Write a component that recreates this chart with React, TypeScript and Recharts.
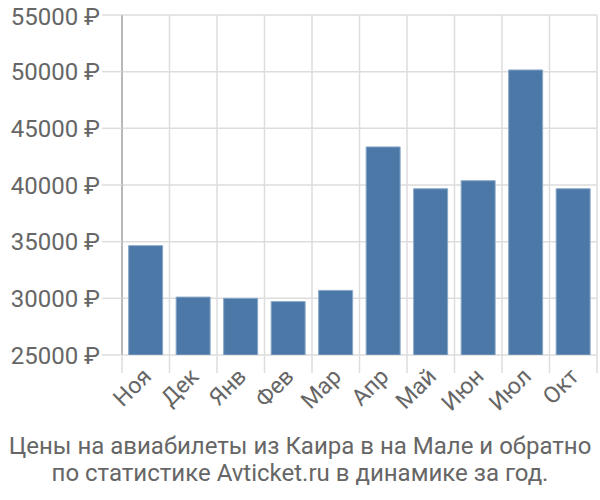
import React from 'react';
import { BarChart, Bar, XAxis, YAxis, CartesianGrid } from 'recharts';

const months = ['Ноя', 'Дек', 'Янв', 'Фев', 'Мар', 'Апр', 'Май', 'Июн', 'Июл', 'Окт'];
const prices = [34650, 30110, 30000, 29710, 30700, 43360, 39670, 40380, 50150, 39670];
const priceTicks = [25000, 30000, 35000, 40000, 45000, 50000, 55000];
const boundaryTicks = [0, 1, 2, 3, 4, 5, 6, 7, 8, 9, 10];
const titleLines = [
  'Цены на авиабилеты из Каира в на Мале и обратно',
  'по статистике Avticket.ru в динамике за год.',
];

const data = months.map((m, i) => ({ month: m, price: prices[i], pos: i + 0.5 }));

const FONT = 'Roboto, "DejaVu Sans", sans-serif';
const TEXT = '#666';
const GRID = '#ddd';

// label plus the boundary tick marks (left edge of each band, and the right edge on the last one)
const MonthTick = ({ x, y, payload, index }: any) => {
  const half = payload.offset || 0;
  return (
    <g>
      <line x1={x - half} x2={x - half} y1={y - 8} y2={y + 10} stroke={GRID} strokeWidth={1.5} />
      {index === months.length - 1 && (
        <line x1={x + half} x2={x + half} y1={y - 8} y2={y + 10} stroke={GRID} strokeWidth={1.5} />
      )}
      <g transform={`translate(${x - 3},${y + 5})`}>
        <text
          transform="rotate(-45)"
          textAnchor="end"
          dy={14}
          fontSize={23}
          fontFamily={FONT}
          fill={TEXT}
        >
          {payload.value}
        </text>
      </g>
    </g>
  );
};

export default function App() {
  return (
    <div style={{ position: 'absolute', left: 0, top: 0, width: 600, height: 500, background: '#fff' }}>
      <BarChart
        width={600}
        height={420}
        data={data}
        margin={{ top: 15, right: 3, left: 0, bottom: 0 }}
        barCategoryGap="14%"
      >
        <CartesianGrid stroke={GRID} strokeWidth={1.5} xAxisId="grid" />
        <XAxis
          xAxisId="grid"
          type="number"
          dataKey="pos"
          domain={[0, 10]}
          ticks={boundaryTicks}
          hide
        />
        <XAxis
          xAxisId="cat"
          dataKey="month"
          height={65}
          axisLine={false}
          tickLine={false}
          tick={<MonthTick />}
          interval={0}
        />
        <YAxis
          domain={[25000, 55000]}
          ticks={priceTicks}
          width={122}
          axisLine={{ stroke: '#aaa', strokeWidth: 1.5 }}
          tickLine={{ stroke: GRID, strokeWidth: 1.5 }}
          tickSize={20}
          tickMargin={2}
          tickFormatter={(v: number) => `${v} ₽`}
          tick={{ fontSize: 24, fontFamily: FONT, fill: TEXT }}
          allowDataOverflow
        />
        <Bar
          xAxisId="cat"
          dataKey="price"
          fill="#4c78a8"
          stroke="#8aa8c8"
          strokeWidth={1}
          isAnimationActive={false}
        />
      </BarChart>
      <div
        style={{
          position: 'absolute',
          top: 433,
          left: 0,
          width: 600,
          textAlign: 'center',
          fontFamily: FONT,
          fontSize: 24,
          lineHeight: '27px',
          color: TEXT,
        }}
      >
        {titleLines.map((l) => (
          <div key={l}>{l}</div>
        ))}
      </div>
    </div>
  );
}
